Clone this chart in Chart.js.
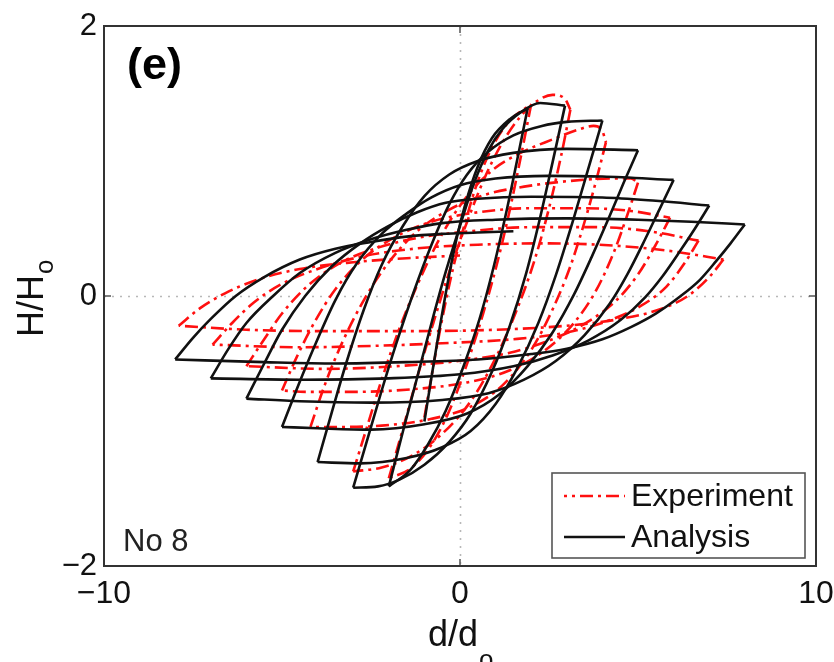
<!DOCTYPE html>
<html>
<head>
<meta charset="utf-8">
<script src="https://cdn.jsdelivr.net/npm/chart.js@4.4.1/dist/chart.umd.min.js"></script>
<style>
  html, body { margin: 0; padding: 0; background: #fff; }
  #wrap { width: 834px; height: 662px; }
</style>
</head>
<body>
<div id="wrap"><canvas id="loops" width="834" height="662"></canvas></div>
<script>
// Axis ticks
const xTicks = [-10, 0, 10]
const yTicks = [-2, 0, 2]

// Analysis, loading branches (left tip -> right tip), in path order
const analysisUp = [
  [[-1, -0.93], [-0.8, -0.6], [-0.6, -0.28], [-0.4, 0.02], [-0.15, 0.36], [0.15, 0.68], [0.5, 0.96], [0.9, 1.17], [1.4, 1.31], [1.9, 1.39]],
  [[-2, -1.41], [-1.6, -1.0], [-1.2, -0.6], [-0.8, -0.2], [-0.4, 0.18], [0, 0.52], [0.4, 0.84], [0.8, 1.08], [1.2, 1.24], [1.7, 1.36], [2.25, 1.43], [2.95, 1.41]],
  [[-3, -1.42], [-2.6, -1.06], [-2.2, -0.7], [-1.8, -0.36], [-1.3, 0.03], [-0.8, 0.38], [-0.3, 0.68], [0.2, 0.9], [0.8, 1.07], [1.5, 1.19], [2.3, 1.26], [3, 1.29], [4, 1.3]],
  [[-4, -1.23], [-3.6, -0.86], [-3.2, -0.5], [-2.7, -0.1], [-2.2, 0.23], [-1.6, 0.52], [-1, 0.74], [-0.3, 0.9], [0.5, 1.0], [1.5, 1.06], [3, 1.09], [5, 1.08]],
  [[-5, -0.97], [-4.6, -0.7], [-4.1, -0.38], [-3.5, -0.03], [-2.9, 0.24], [-2.2, 0.46], [-1.5, 0.61], [-0.8, 0.73], [0, 0.82], [1, 0.87], [2.5, 0.89], [4, 0.885], [6, 0.86]],
  [[-6, -0.76], [-5.5, -0.5], [-5, -0.25], [-4.35, 0], [-3.6, 0.22], [-2.8, 0.39], [-2, 0.52], [-1.2, 0.62], [-0.4, 0.69], [0.5, 0.72], [2, 0.735], [4, 0.73], [5.5, 0.705], [7, 0.67]],
  [[-7, -0.61], [-6.5, -0.39], [-6, -0.2], [-5.25, 0], [-4.5, 0.17], [-3.5, 0.32], [-2.5, 0.42], [-1.5, 0.49], [-0.5, 0.54], [1, 0.565], [3, 0.575], [5, 0.565], [6.5, 0.55], [8, 0.53]],
  [[-8, -0.47], [-7.5, -0.31], [-7, -0.17], [-6.3, 0], [-5.5, 0.14], [-4.5, 0.27], [-3.5, 0.35], [-2.5, 0.4], [-1.5, 0.44], [-0.5, 0.46], [0.5, 0.47], [1.5, 0.48]]
]

// Analysis, unloading branches (right tip -> left tip)
const analysisDown = [
  [[1.9, 1.39], [1.6, 1.0], [1.3, 0.62], [0.95, 0.22], [0.55, -0.17], [0.1, -0.52], [-0.4, -0.85], [-0.9, -1.1], [-1.4, -1.29], [-2, -1.41]],
  [[2.95, 1.41], [2.6, 0.99], [2.25, 0.58], [1.85, 0.16], [1.4, -0.22], [0.9, -0.56], [0.3, -0.87], [-0.3, -1.08], [-1, -1.25], [-1.7, -1.36], [-2.3, -1.41], [-3, -1.42]],
  [[4, 1.3], [3.6, 0.94], [3.2, 0.58], [2.7, 0.16], [2.2, -0.2], [1.6, -0.54], [1, -0.8], [0.3, -1.0], [-0.5, -1.12], [-1.5, -1.2], [-2.8, -1.24], [-4, -1.23]],
  [[5, 1.08], [4.6, 0.84], [4.2, 0.59], [3.7, 0.29], [3.2, 0.01], [2.6, -0.27], [1.9, -0.52], [1.1, -0.73], [0.2, -0.87], [-1, -0.95], [-2.5, -0.99], [-4, -0.98], [-5, -0.97]],
  [[6, 0.86], [5.6, 0.64], [5.2, 0.42], [4.7, 0.16], [4.2, -0.06], [3.5, -0.29], [2.7, -0.48], [1.8, -0.62], [0.8, -0.72], [-0.5, -0.77], [-2.5, -0.79], [-4.5, -0.78], [-6, -0.76]],
  [[7, 0.67], [6.6, 0.5], [6.2, 0.34], [5.7, 0.15], [5.2, -0.01], [4.5, -0.18], [3.6, -0.33], [2.6, -0.44], [1.5, -0.52], [0, -0.58], [-2, -0.61], [-4.5, -0.62], [-7, -0.61]],
  [[8, 0.53], [7.6, 0.39], [7.2, 0.26], [6.74, 0.12], [6.2, 0], [5.5, -0.13], [4.8, -0.23], [4, -0.32], [3, -0.39], [2, -0.43], [0.5, -0.47], [-1.5, -0.49], [-3.5, -0.5], [-5.5, -0.49], [-8, -0.47]]
]

// Experiment, loading branches
const experimentUp = [
  [[-1, -0.9], [-0.75, -0.52], [-0.5, -0.17], [-0.2, 0.2], [0.15, 0.55], [0.5, 0.85], [0.9, 1.1], [1.4, 1.3], [2, 1.42]],
  [[-2, -1.35], [-1.6, -0.98], [-1.2, -0.6], [-0.75, -0.2], [-0.3, 0.18], [0.2, 0.55], [0.7, 0.88], [1.2, 1.14], [1.7, 1.33], [2.2, 1.45], [2.6, 1.49], [2.95, 1.46], [3.1, 1.38]],
  [[-3, -1.3], [-2.6, -0.96], [-2.2, -0.62], [-1.7, -0.24], [-1.1, 0.14], [-0.5, 0.46], [0.2, 0.74], [0.9, 0.93], [1.7, 1.06], [2.6, 1.16], [3.3, 1.23], [3.75, 1.26], [4.0, 1.22], [4.1, 1.14]],
  [[-4.2, -0.97], [-3.8, -0.66], [-3.3, -0.34], [-2.7, -0.03], [-2.0, 0.25], [-1.2, 0.48], [-0.3, 0.64], [0.7, 0.75], [1.8, 0.81], [3, 0.85], [4.2, 0.87], [4.8, 0.87], [5, 0.84]],
  [[-5, -0.7], [-4.6, -0.46], [-4.1, -0.2], [-3.5, 0.05], [-2.7, 0.28], [-1.8, 0.44], [-0.8, 0.55], [0.5, 0.62], [2, 0.65], [3.5, 0.65], [4.8, 0.63], [5.9, 0.58]],
  [[-6, -0.52], [-5.5, -0.32], [-5, -0.13], [-4.3, 0.07], [-3.4, 0.24], [-2.4, 0.35], [-1.2, 0.43], [0.3, 0.48], [2, 0.51], [3.8, 0.51], [5.3, 0.48], [6.7, 0.41]],
  [[-6.95, -0.36], [-6.4, -0.2], [-5.8, -0.05], [-5, 0.09], [-4, 0.2], [-2.8, 0.29], [-1.3, 0.35], [0.5, 0.38], [2.5, 0.39], [4.5, 0.37], [6, 0.33], [7.4, 0.27]],
  [[-7.9, -0.22], [-7.3, -0.09], [-6.6, 0.02], [-5.7, 0.12], [-4.5, 0.2], [-3, 0.25], [-1.5, 0.28], [0, 0.3]]
]

// Experiment, unloading branches
const experimentDown = [
  [[2, 1.42], [1.7, 1.02], [1.4, 0.64], [1.05, 0.25], [0.65, -0.13], [0.2, -0.5], [-0.3, -0.85], [-0.85, -1.12], [-1.4, -1.28], [-2, -1.35]],
  [[3.1, 1.38], [2.85, 1.05], [2.5, 0.65], [2.1, 0.27], [1.6, -0.1], [1.0, -0.46], [0.3, -0.78], [-0.5, -1.02], [-1.4, -1.19], [-2.2, -1.27], [-3, -1.3]],
  [[4.1, 1.14], [3.85, 0.88], [3.5, 0.55], [3.1, 0.22], [2.6, -0.1], [2.0, -0.4], [1.2, -0.66], [0.3, -0.82], [-0.8, -0.91], [-2.2, -0.96], [-3.4, -0.97], [-4.2, -0.97]],
  [[5, 0.84], [4.7, 0.6], [4.3, 0.31], [3.8, 0.03], [3.2, -0.2], [2.4, -0.4], [1.4, -0.55], [0.2, -0.64], [-1.3, -0.69], [-3, -0.71], [-4.3, -0.71], [-5, -0.7]],
  [[5.9, 0.58], [5.5, 0.38], [5.0, 0.16], [4.4, -0.03], [3.6, -0.19], [2.6, -0.32], [1.4, -0.42], [0, -0.48], [-1.8, -0.52], [-3.8, -0.54], [-6, -0.52]],
  [[6.7, 0.41], [6.3, 0.24], [5.8, 0.07], [5.1, -0.07], [4.2, -0.18], [3, -0.27], [1.5, -0.32], [-0.5, -0.35], [-2.5, -0.37], [-4.5, -0.38], [-6.95, -0.36]],
  [[7.4, 0.27], [7.0, 0.14], [6.4, 0.0], [5.6, -0.1], [4.5, -0.17], [3, -0.22], [1, -0.25], [-1.5, -0.26], [-4, -0.26], [-6, -0.25], [-7.9, -0.22]]
]

const FONT = '"Liberation Sans", Arial, Helvetica, sans-serif'
const RED = '#ff1010'
const BLACK = '#111'
const RED_DASH = [13, 5, 3, 5]

function branchSet(points, style) {
  return {
    data: points.map(([x, y]) => ({ x, y })),
    showLine: true,
    pointRadius: 0,
    fill: false,
    tension: 0.4,
    cubicInterpolationMode: 'monotone',
    ...style
  }
}

const redStyle = { borderColor: RED, borderWidth: 2.6, borderDash: RED_DASH, order: 2 }
const blackStyle = { borderColor: BLACK, borderWidth: 2.6, order: 1 }

const datasets = [
  ...experimentUp.map(b => branchSet(b, redStyle)),
  ...experimentDown.map(b => branchSet(b, redStyle)),
  ...analysisUp.map(b => branchSet(b, blackStyle)),
  ...analysisDown.map(b => branchSet(b, blackStyle))
]

function tickText(v) {
  return v < 0 ? '\u2212' + Math.abs(v) : String(v)
}

// Box, zero lines, legend and labels
const frame = {
  id: 'frame',
  beforeDatasetsDraw(chart) {
    const { ctx, chartArea: a, scales: { x, y } } = chart
    const x0 = Math.round(x.getPixelForValue(0)) + 0.5
    const y0 = Math.round(y.getPixelForValue(0)) + 0.5
    ctx.save()
    ctx.strokeStyle = '#b8b8b8'
    ctx.lineWidth = 1.6
    ctx.setLineDash([2, 6])
    ctx.beginPath()
    ctx.moveTo(x0, a.top)
    ctx.lineTo(x0, a.bottom)
    ctx.moveTo(a.left, y0)
    ctx.lineTo(a.right, y0)
    ctx.stroke()
    ctx.restore()
  },
  afterDatasetsDraw(chart) {
    const { ctx, chartArea: a, scales: { x, y } } = chart
    ctx.save()

    // tick marks on all four sides
    ctx.strokeStyle = '#555'
    ctx.lineWidth = 1.5
    ctx.beginPath()
    xTicks.forEach(v => {
      const px = x.getPixelForValue(v)
      ctx.moveTo(px, a.bottom); ctx.lineTo(px, a.bottom - 7)
      ctx.moveTo(px, a.top); ctx.lineTo(px, a.top + 7)
    })
    yTicks.forEach(v => {
      const py = y.getPixelForValue(v)
      ctx.moveTo(a.left, py); ctx.lineTo(a.left + 7, py)
      ctx.moveTo(a.right, py); ctx.lineTo(a.right - 7, py)
    })
    ctx.stroke()

    // box
    ctx.strokeStyle = '#333'
    ctx.lineWidth = 2
    ctx.strokeRect(a.left, a.top, a.right - a.left, a.bottom - a.top)

    // panel letter and specimen
    ctx.fillStyle = '#000'
    ctx.textBaseline = 'middle'
    ctx.textAlign = 'left'
    ctx.font = 'bold 45px ' + FONT
    ctx.fillText('(e)', a.left + 23, a.top + 41)
    ctx.font = '31px ' + FONT
    ctx.fillStyle = '#222'
    ctx.fillText('No 8', a.left + 19, a.bottom - 24)

    // legend
    const lx = a.right - 264, ly = a.bottom - 93, lw = 253, lh = 85
    ctx.fillStyle = '#fff'
    ctx.fillRect(lx, ly, lw, lh)
    ctx.strokeStyle = '#555'
    ctx.lineWidth = 1.6
    ctx.strokeRect(lx, ly, lw, lh)
    ctx.lineWidth = 2.6
    ctx.strokeStyle = RED
    ctx.setLineDash(RED_DASH)
    ctx.lineDashOffset = 10
    ctx.beginPath()
    ctx.moveTo(lx + 12, ly + 23)
    ctx.lineTo(lx + 73, ly + 23)
    ctx.stroke()
    ctx.setLineDash([])
    ctx.strokeStyle = BLACK
    ctx.beginPath()
    ctx.moveTo(lx + 12, ly + 64)
    ctx.lineTo(lx + 73, ly + 64)
    ctx.stroke()
    ctx.fillStyle = '#111'
    ctx.font = '32px ' + FONT
    ctx.fillText('Experiment', lx + 79, ly + 24)
    ctx.fillText('Analysis', lx + 79, ly + 65)

    // axis titles with subscripts
    ctx.fillStyle = '#111'
    ctx.textBaseline = 'alphabetic'
    ctx.font = '36px ' + FONT
    const xt = 'd/d'
    const xw = ctx.measureText(xt).width
    const xc = (a.left + a.right) / 2 - 7
    ctx.fillText(xt, xc - xw / 2, 646)
    ctx.font = '26px ' + FONT
    ctx.fillText('o', xc + xw / 2 + 1, 668)

    ctx.translate(43, (a.top + a.bottom) / 2 + 2)
    ctx.rotate(-Math.PI / 2)
    ctx.font = '36px ' + FONT
    const yt = 'H/H'
    const yw = ctx.measureText(yt).width
    ctx.fillText(yt, -yw / 2 - 8, 0)
    ctx.font = '26px ' + FONT
    ctx.fillText('o', yw / 2 - 7, 10)
    ctx.restore()
  }
}

new Chart(document.getElementById('loops'), {
  type: 'scatter',
  data: { datasets },
  options: {
    responsive: false,
    animation: false,
    devicePixelRatio: 1,
    layout: { padding: { top: 26, right: 18, left: 0, bottom: 0 } },
    plugins: {
      legend: { display: false },
      tooltip: { enabled: false }
    },
    scales: {
      x: {
        type: 'linear',
        min: -10,
        max: 10,
        afterBuildTicks: s => { s.ticks = xTicks.map(v => ({ value: v })) },
        afterFit: s => { s.height = 96; s.paddingLeft = 0; s.paddingRight = 0 },
        grid: { display: false, drawTicks: false },
        border: { display: false },
        ticks: {
          padding: 9,
          color: '#111',
          font: { family: FONT, size: 32 },
          maxRotation: 0,
          callback: tickText
        }
      },
      y: {
        type: 'linear',
        min: -2,
        max: 2,
        afterBuildTicks: s => { s.ticks = yTicks.map(v => ({ value: v })) },
        afterFit: s => { s.width = 104; s.paddingTop = 0; s.paddingBottom = 0 },
        grid: { display: false, drawTicks: false },
        border: { display: false },
        ticks: {
          padding: 7,
          color: '#111',
          font: { family: FONT, size: 31 },
          callback: tickText
        }
      }
    }
  },
  plugins: [frame]
})
</script>
</body>
</html>
